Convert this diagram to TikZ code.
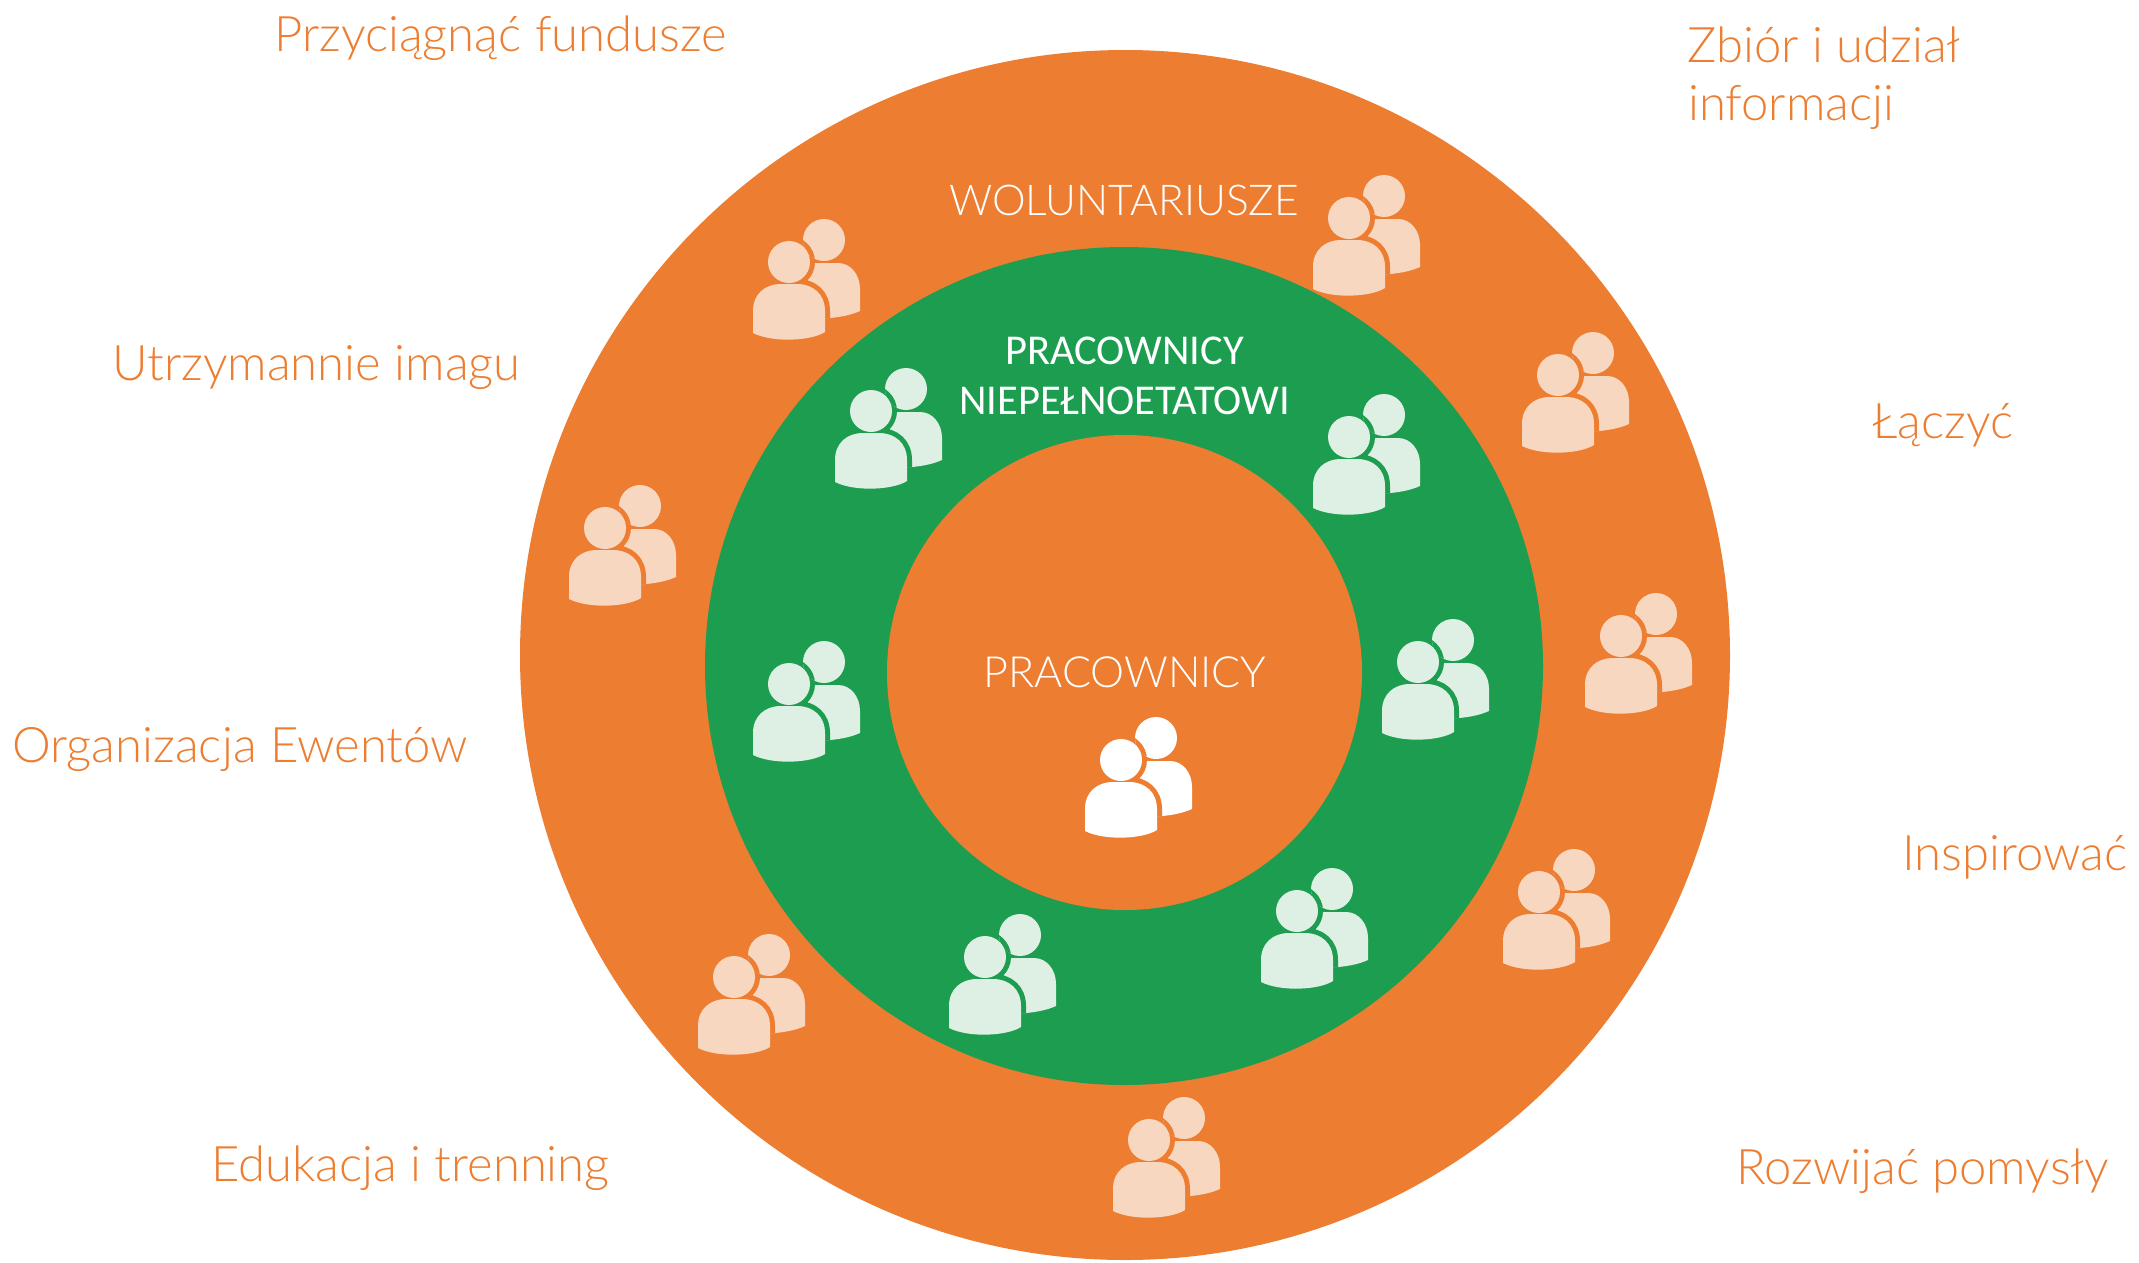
\documentclass[tikz,border=0pt]{standalone}
\usepackage{fontspec}
\setmainfont{Lato Light}
\newfontfamily\calib{Carlito}
\definecolor{orng}{HTML}{ED7D31}
\definecolor{grn}{HTML}{1D9D4F}
\definecolor{lorng}{HTML}{F8D7C0}
\definecolor{lgrn}{HTML}{DDF0E3}
\tikzset{
  disc/.style={circle,inner sep=0pt,outer sep=0pt,minimum size=#1},
  lab/.style={anchor=base west,inner sep=0pt,text=orng,font=\fontsize{49}{49}\selectfont},
  captext/.style={anchor=base,inner sep=0pt,text=white,font=\fontsize{43}{43}\selectfont},
  capcal/.style={anchor=base,inner sep=0pt,text=white,font=\calib\fontsize{42.5}{42.5}\selectfont},
  pics/people/.style 2 args={code={
    \fill[#1] (71,21) circle[radius=21];
    \fill[#1] (55,44) -- (85,44) .. controls (98,44) and (107,56) .. (107,70) -- (107,92)
       .. controls (98,96) and (88,98) .. (77,99) -- (55,99) -- cycle;
    \begin{scope}
      \clip (71,21) circle[radius=21]
        (55,44) -- (85,44) .. controls (98,44) and (107,56) .. (107,70) -- (107,92)
        .. controls (98,96) and (88,98) .. (77,99) -- (55,99) -- cycle;
      \fill[#2] (36,43) circle[radius=26];
      \draw[#2,fill=#2,line width=10pt] (0,114) -- (0,92) .. controls (0,75) and (12,65) .. (28,65)
        -- (44,65) .. controls (60,65) and (72,75) .. (72,92) -- (72,113)
        .. controls (58,120) and (20,122) .. (0,114) -- cycle;
    \end{scope}
    \fill[#1] (36,43) circle[radius=21];
    \fill[#1] (0,114) -- (0,92) .. controls (0,75) and (12,65) .. (28,65)
        -- (44,65) .. controls (60,65) and (72,75) .. (72,92) -- (72,113)
        .. controls (58,122) and (20,124) .. (0,114) -- cycle;
  }}
}
\begin{document}
\begin{tikzpicture}[x=1pt,y=-1pt]
\useasboundingbox (0,0) rectangle (2139,1262);
\node[disc=1210pt,fill=orng] (outer) at (1125,655) {};
\node[disc=838pt,fill=grn] (middle) at (1124,666) {};
\node[disc=475pt,fill=orng] (inner) at (1124.5,672.5) {};
% ring of volunteers
\foreach \x/\y in {753/219,1313/175,1522/332,1585/593,1503/849,1113/1097,698/934,569/485}
  \pic at (\x,\y) {people={lorng}{orng}};
% ring of part-time staff
\foreach \x/\y in {835/368,1313/394,1382/619,1261/868,949/914,753/641}
  \pic at (\x,\y) {people={lgrn}{grn}};
\pic at (1085,717) {people={white}{orng}};
\node[captext,font=\fontsize{42.5}{42.5}\selectfont] (wol) at (1124,215) {WOLUNTARIUSZE};
\node[capcal] (pra) at (1124.5,364) {PRACOWNICY};
\node[capcal] (nie) at (1124.5,414) {NIEPEŁNOETATOWI};
\node[captext] (pin) at (1125,687) {PRACOWNICY};
\node[lab] (a) at (274,51) {Przyciągnąć fundusze};
\node[lab] (b) at (1687,62) {Zbiór i udział};
\node[lab] (c) at (1688,120) {informacji};
\node[lab] (d) at (1872,438) {Łączyć};
\node[lab] (e) at (1902,870) {Inspirować};
\node[lab] (f) at (1736,1184) {Rozwijać pomysły};
\node[lab] (g) at (211,1181) {Edukacja i trenning};
\node[lab] (h) at (12,762) {Organizacja Ewentów};
\node[lab] (i) at (112,380) {Utrzymannie imagu};
\end{tikzpicture}
\end{document}
